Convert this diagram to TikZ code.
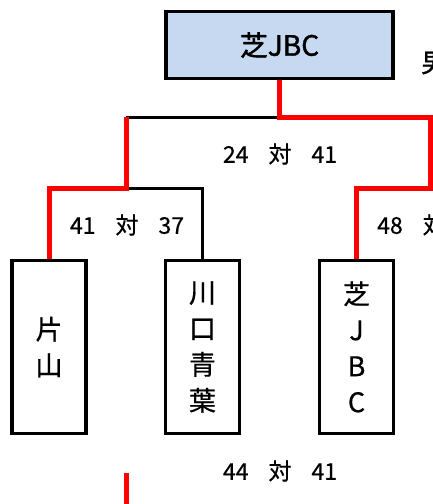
\documentclass[tikz,border=0pt]{standalone}
\usepackage{fontspec}
\setmainfont{Noto Sans CJK JP}[FakeBold=0.6]
\newfontfamily\heavyfont{Noto Sans CJK JP}[FakeBold=1.4]
\begin{document}
\begin{tikzpicture}[x=1pt,y=-1pt,
  team/.style={draw, line width=3.5pt, minimum width=74pt, minimum height=173pt, inner sep=0pt, align=center, font=\fontsize{27}{36}\selectfont},
  champ/.style={draw, line width=3.5pt, fill=champblue, minimum width=227pt, minimum height=67pt, inner sep=0pt, font=\heavyfont\fontsize{28}{28}\selectfont},
  win/.style={draw=red, line width=5pt},
  lose/.style={draw=black, line width=3pt},
  score/.style={font=\fontsize{23}{23}\selectfont, inner sep=0pt}]
\definecolor{champblue}{HTML}{C6D9F1}
\useasboundingbox (0,0) rectangle (433,504);
\clip (0,0) rectangle (433,504);
% nodes
\node[champ] (top) at (279.5,45) {芝JBC};
\node[team] (t1) at (49,347) {片\\山};
\node[team] (t2) at (202.5,347) {川\\口\\青\\葉};
\node[team] (t3) at (356.5,347) {芝\\J\\B\\C};
\node[font=\heavyfont\fontsize{26}{26}\selectfont, anchor=west, inner sep=0pt] (men) at (421,63) {男};
% scores
\node[score] (s1) at (280,154) {24\hspace{20pt}対\hspace{20pt}41};
\node[score] (s2) at (127,225) {41\hspace{20pt}対\hspace{20pt}37};
\node[score, anchor=west] (s3) at (377,225) {48\hspace{20pt}対};
\node[score] (s4) at (280,471) {44\hspace{20pt}対\hspace{20pt}41};
% junction coordinates
\coordinate (j0) at (279.5,117);
\coordinate (jl) at (126,117);
\coordinate (jr) at (430,117);
\coordinate (jl2) at (126,188);
\coordinate (jr2) at (430,188);
\coordinate (b1) at (126,473);
\coordinate (b1e) at (126,510);
\coordinate (b2) at (434,473);
\coordinate (b2e) at (434,510);
% connectors
\draw[lose] (j0) -- (jl);
\draw[lose] (jl2) -| (t2.north);
\draw[win] (top.south) -- (j0) -- (jr) -- (jr2) -| (t3.north);
\draw[win] (jl) -- (jl2) -| (t1.north);
\draw[win] (b1) -- (b1e);
\draw[lose] (b2) -- (b2e);
\end{tikzpicture}
\end{document}
